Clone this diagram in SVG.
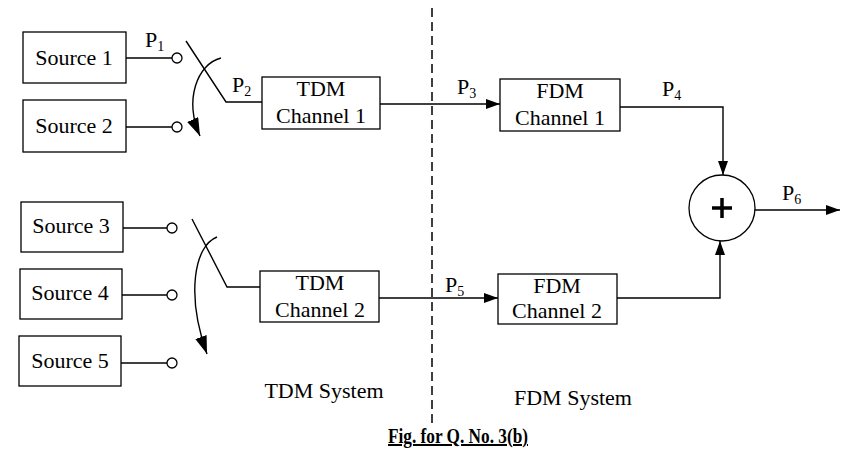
<svg xmlns="http://www.w3.org/2000/svg" width="854" height="464" viewBox="0 0 854 464">
<defs>
<marker id="ah" viewBox="0 0 14 10" refX="14" refY="5" markerWidth="14" markerHeight="10" markerUnits="userSpaceOnUse" orient="auto">
<path d="M0,0 L14,5 L0,10 Z" fill="#000"/>
</marker>
<marker id="ahb" viewBox="0 0 18 12" refX="18" refY="6" markerWidth="18" markerHeight="12" markerUnits="userSpaceOnUse" orient="auto">
<path d="M0,0 L18,6 L0,12 Z" fill="#000"/>
</marker>
</defs>
<style>
.box{fill:#fff;stroke:#000;stroke-width:1.3}
.ln{fill:none;stroke:#000;stroke-width:1.4}
.pin{fill:#fff;stroke:#000;stroke-width:1.3}
text{font-family:"Liberation Serif","Times New Roman",serif;font-size:22px;fill:#000}
.c{text-anchor:middle}
.sub{font-size:14px}
</style>
<rect width="854" height="464" fill="#fff"/>
<g id="connectors">
<line class="ln" x1="126" y1="58" x2="172" y2="58"/>
<line class="ln" x1="126" y1="127" x2="172" y2="127"/>
<line class="ln" x1="123" y1="228" x2="167" y2="228"/>
<line class="ln" x1="122" y1="295" x2="167" y2="295"/>
<line class="ln" x1="121" y1="363" x2="167" y2="363"/>
<polyline class="ln" points="186,41 226,102 262,102"/>
<polyline class="ln" points="192,219 227,287 260,287"/>
<path class="ln" d="M221,58 C197,64 184,100 200,136" marker-end="url(#ahb)"/>
<path class="ln" d="M217,237 C194,246 186,295 207,354" marker-end="url(#ahb)"/>
<line class="ln" x1="380" y1="104" x2="500" y2="104" marker-end="url(#ah)"/>
<line class="ln" x1="379" y1="298" x2="498" y2="298" marker-end="url(#ah)"/>
<polyline class="ln" points="620,107 723,107 723,175" marker-end="url(#ah)"/>
<polyline class="ln" points="617,298 720,298 720,241" marker-end="url(#ah)"/>
<line class="ln" x1="755" y1="210" x2="840" y2="210" marker-end="url(#ah)"/>
<line x1="432" y1="8" x2="432" y2="425" stroke="#000" stroke-width="1.5" stroke-dasharray="9,5"/>
</g>
<g id="pins">
<circle class="pin" cx="177" cy="58" r="5"/>
<circle class="pin" cx="177" cy="127" r="5"/>
<circle class="pin" cx="172" cy="228" r="5"/>
<circle class="pin" cx="172" cy="295" r="5"/>
<circle class="pin" cx="172" cy="363" r="5"/>
</g>
<g id="source1"><rect class="box" x="23" y="32" width="103" height="51"/><text class="c" x="74" y="65">Source 1</text></g>
<g id="source2"><rect class="box" x="23" y="100" width="103" height="52"/><text class="c" x="74" y="133">Source 2</text></g>
<g id="source3"><rect class="box" x="21" y="202" width="102" height="50"/><text class="c" x="71" y="233">Source 3</text></g>
<g id="source4"><rect class="box" x="20" y="269" width="102" height="50"/><text class="c" x="70" y="300">Source 4</text></g>
<g id="source5"><rect class="box" x="19" y="336" width="102" height="50"/><text class="c" x="70" y="368">Source 5</text></g>
<g id="tdm1"><rect class="box" x="262" y="77" width="118" height="52"/><text class="c" x="321" y="96">TDM</text><text class="c" x="321" y="123">Channel 1</text></g>
<g id="tdm2"><rect class="box" x="260" y="271" width="119" height="51"/><text class="c" x="320" y="290">TDM</text><text class="c" x="320" y="317">Channel 2</text></g>
<g id="fdm1"><rect class="box" x="500" y="79" width="120" height="52"/><text class="c" x="560" y="98">FDM</text><text class="c" x="560" y="125">Channel 1</text></g>
<g id="fdm2"><rect class="box" x="498" y="274" width="119" height="50"/><text class="c" x="557" y="293">FDM</text><text class="c" x="557" y="318">Channel 2</text></g>
<g id="adder"><circle cx="722" cy="208" r="33" fill="#fff" stroke="#000" stroke-width="1.3"/><path d="M722,198 V218 M712,208 H732" stroke="#000" stroke-width="3.5"/></g>
<g id="labels">
<text x="145" y="47">P<tspan class="sub" dy="4">1</tspan></text>
<text x="232" y="92">P<tspan class="sub" dy="4">2</tspan></text>
<text x="457" y="94">P<tspan class="sub" dy="4">3</tspan></text>
<text x="662" y="96">P<tspan class="sub" dy="4">4</tspan></text>
<text x="445" y="292">P<tspan class="sub" dy="4">5</tspan></text>
<text x="782" y="200">P<tspan class="sub" dy="4">6</tspan></text>
<text class="c" x="324" y="398">TDM System</text>
<text class="c" x="573" y="405">FDM System</text>
<text x="388" y="443" textLength="140" lengthAdjust="spacingAndGlyphs" style="font-weight:bold;font-size:20px;text-decoration:underline">Fig. for Q. No. 3(b)</text>
</g>
</svg>
